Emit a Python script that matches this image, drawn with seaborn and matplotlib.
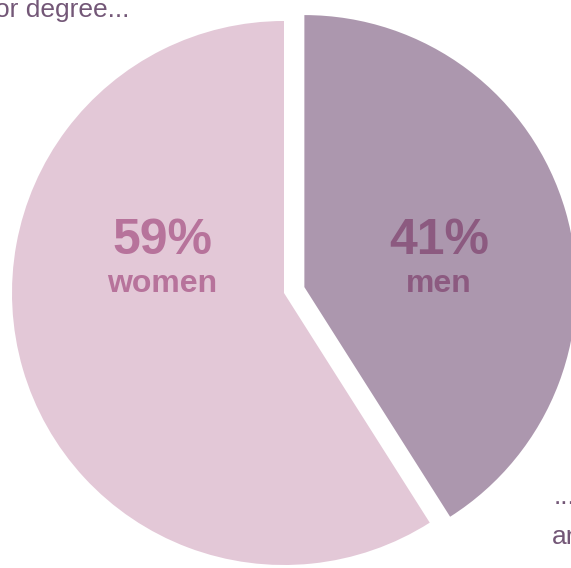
import matplotlib
matplotlib.use("Agg")
from matplotlib import pyplot as plt
import seaborn as sns

# share of graduates by gender
groups = ["men", "women"]
shares = [41, 59]
pct_labels = ["41%", "59%"]
slice_colors = ["#ac97ae", "#e3c8d7"]
label_colors = ["#8c5a80", "#b7739b"]

W, H = 571, 568
R = 272.0          # pie radius in px
CX, CY = 284, 293  # pie centre in px (from top-left)

sns.set_theme(style="white")
plt.rcParams["font.family"] = ["Liberation Sans", "DejaVu Sans"]

fig = plt.figure(figsize=(W / 100, H / 100), dpi=100)
ax = fig.add_axes([0, 0, 1, 1])

ax.pie(shares, colors=slice_colors, startangle=90, counterclock=False,
       explode=[0.078, 0], wedgeprops=dict(linewidth=0))
ax.set_xlim(-CX / R, (W - CX) / R)
ax.set_ylim(-(H - CY) / R, CY / R)
ax.set_aspect("auto")
ax.axis("off")


def px(x, y):
    return x / W, 1 - y / H


# percentage + group labels
pos = {"men": 439, "women": 162}
for g, p, c in zip(groups, pct_labels, label_colors):
    x = pos[g]
    fig.text(*px(x, 241), p, ha="center", va="center", fontsize=36,
             fontweight="bold", color=c)
    fig.text(*px(x, 284), g, ha="center", va="center", fontsize=23,
             fontweight="bold", color=c)

# cut-off captions around the chart
cap = "#735777"
fig.text(*px(129, 17), "or degree...", ha="right", va="baseline",
         fontsize=19, color=cap)
fig.text(*px(554, 504), "...", ha="left", va="baseline",
         fontsize=19, color=cap)
fig.text(*px(552, 544), "and", ha="left", va="baseline",
         fontsize=19, color=cap)

fig.savefig("out.png", dpi=100, facecolor="white")
